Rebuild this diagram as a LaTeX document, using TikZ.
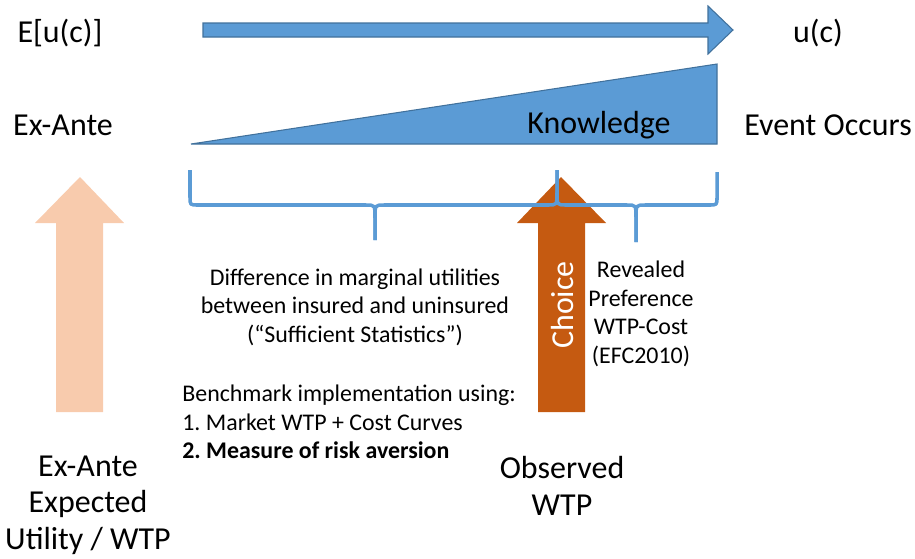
\documentclass[tikz,border=0pt]{standalone}
\usepackage{fontspec}
\setmainfont{Carlito}
\definecolor{kblue}{HTML}{5B9BD5}
\definecolor{kedge}{HTML}{41719C}
\definecolor{choiceor}{HTML}{C55A11}
\definecolor{peach}{HTML}{F8CBAD}
\begin{document}
\begin{tikzpicture}[
  x=0.02cm,y=-0.02cm,
  big/.style={font=\fontsize{18.2}{20.8}\selectfont,align=center,inner sep=0pt},
  small/.style={font=\fontsize{13.6}{16.2}\selectfont,align=center,inner sep=0pt},
  shade/.style={fill=kblue,draw=kedge,line width=0.6pt},
  brace/.style={draw=kblue,line width=2pt,line join=round}]
\path[use as bounding box] (0,0) rectangle (915,558);
% time arrow and knowledge wedge
\path[shade] (203,23) -- (708,23) -- (708,6) -- (733,30) -- (708,54)
  -- (708,37) -- (203,37) -- cycle;
\path[shade] (191,144) -- (717,64) -- (717,144) -- cycle;
\node[big] (eu) at (60,33) {E[u(c)]};
\node[big] (uc) at (818,33) {u(c)};
\node[big] (exante) at (63,125) {Ex-Ante};
\node[big] (knowledge) at (599,125) {Knowledge};
\node[big] (event) at (828,125) {Event Occurs};

% up arrows
\fill[peach] (56,412) -- (56,223) -- (35,223) -- (80,177) -- (124,223)
  -- (103,223) -- (103,412) -- cycle;
\fill[choiceor] (538,412) -- (538,223) -- (517,223) -- (561,177) -- (606,223)
  -- (585,223) -- (585,412) -- cycle;
\node[big,text=white,rotate=90] (choice) at (562,305) {Choice};

% braces
\draw[brace] (190,170) -- (190,197) .. controls (190,205) .. (198,205)
  -- (366,205) .. controls (375,205) .. (375,218) -- (375,240);
\draw[brace] (375,240) -- (375,218) .. controls (375,205) .. (384,205)
  -- (548,205) .. controls (557,205) .. (557,192) -- (557,170);
\draw[brace] (557,170) -- (557,192) .. controls (557,205) .. (566,205)
  -- (627,205) .. controls (636,205) .. (636,218) -- (636,242);
\draw[brace] (636,242) -- (636,218) .. controls (636,205) .. (645,205)
  -- (709,205) .. controls (717,205) .. (717,197) -- (717,172);

\node[small] (suffstat) at (355,307)
  {Difference in marginal utilities\\between insured and uninsured\\(“Sufficient Statistics”)};
\node[small] (revealed) at (641,314)
  {Revealed\\Preference\\WTP-Cost\\(EFC2010)};
\node[small,align=left,anchor=west] (bench) at (182,422)
  {Benchmark implementation using:\\1.\ Market WTP + Cost Curves\\\textbf{2.\ Measure of risk aversion}};

\node[big] (exanteeu) at (88,505) {Ex-Ante\\Expected\\Utility / WTP};
\node[big] (observed) at (562,486) {Observed\\WTP};
\end{tikzpicture}
\end{document}
